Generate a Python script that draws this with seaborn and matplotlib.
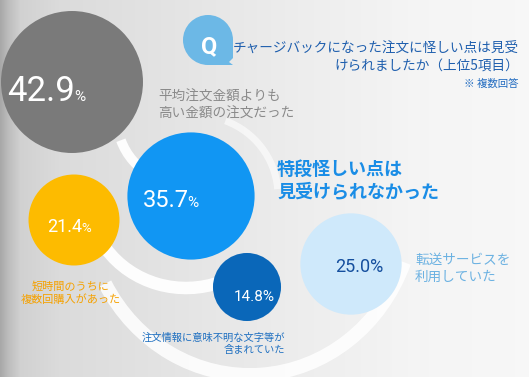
import numpy as np
import pandas as pd
import matplotlib
matplotlib.use("Agg")
import matplotlib.pyplot as plt
from matplotlib.patches import Arc, Circle, Polygon
import seaborn as sns

# ---------------- data ----------------
labels = [
    "平均注文金額よりも\n高い金額の注文だった",
    "特段怪しい点は\n見受けられなかった",
    "転送サービスを\n利用していた",
    "短時間のうちに\n複数回購入があった",
    "注文情報に意味不明な文字等が\n含まれていた",
]
values = [42.9, 35.7, 25.0, 21.4, 14.8]
title_lines = ["チャージバックになった注文に怪しい点は見受",
               "けられましたか（上位5項目）"]
note = "※ 複数回答"

# ---------------- layout / style ----------------
pos_x = [72, 191, 351, 74, 247]
pos_y = [82, 196, 264, 220, 287]
colors = ["#7a7a7a", "#1196f3", "#cfe9fb", "#fdbb00", "#0a67b9"]

sns.set_theme(style="white")
plt.rcParams["font.family"] = ["Noto Sans CJK JP", "DejaVu Sans"]

W, H = 529, 377
fig = plt.figure(figsize=(W / 100, H / 100), dpi=100)
ax = fig.add_axes([0, 0, 1, 1])
ax.set_xlim(0, W)
ax.set_ylim(H, 0)
ax.axis("off")

# background gradient
xs = np.array([0, 8, 20, 60, 160, 300, 420, 529])
vs = np.array([0.66, 0.74, 0.82, 0.86, 0.89, 0.93, 0.96, 0.97])
gx = np.interp(np.arange(W), xs, vs)
grad = np.clip(np.repeat(gx[None, :], H, axis=0), 0, 1)
img = np.dstack([grad, grad, grad])
ax.imshow(img, extent=[0, W, H, 0], aspect="auto", zorder=0, interpolation="bilinear")

# white swooshes
ax.add_patch(Arc((182, 118), 130, 130, theta1=118, theta2=160, lw=7, color="white", alpha=0.95, zorder=1))
ax.add_patch(Arc((186, 195), 196, 186, theta1=68, theta2=146, lw=9, color="white", alpha=0.95, zorder=1))
ax.add_patch(Arc((250, 200), 330, 350, theta1=22, theta2=150, lw=10, color="white", alpha=0.85, zorder=1))
ax.add_patch(Arc((198, 196), 160, 160, theta1=-70, theta2=-5, lw=5, color="white", alpha=0.6, zorder=1))

# bubbles
df = pd.DataFrame({"x": pos_x, "y": pos_y, "value": values, "label": labels})
sns.scatterplot(data=df, x="x", y="y", size="value", hue="label",
                palette=dict(zip(labels, colors)), sizes=(2400, 10450),
                size_norm=(min(values), max(values)), legend=False,
                linewidth=0, alpha=1, ax=ax, zorder=3)
ax.set_xlim(0, W)
ax.set_ylim(H, 0)
ax.axis("off")

num_font = ["Roboto", "DejaVu Sans"]
# percentage labels
ax.text(75, 101, f"{values[0]:.1f}", color="white", fontsize=25, family=num_font, ha="right", va="baseline", zorder=5)
ax.text(74.5, 101, "%", color="white", fontsize=11, family=num_font, ha="left", va="baseline", zorder=5)
ax.text(189, 207, f"{values[1]:.1f}", color="white", fontsize=17, family=num_font, ha="right", va="baseline", zorder=5)
ax.text(187.5, 207, "%", color="white", fontsize=11, family=num_font, ha="left", va="baseline", zorder=5)
ax.text(82.5, 232, f"{values[3]:.1f}", color="white", fontsize=13, family=num_font, ha="right", va="baseline", zorder=5)
ax.text(81.5, 232, "%", color="white", fontsize=9.5, family=num_font, ha="left", va="baseline", zorder=5)
ax.text(254, 301, f"{values[4]:.1f}%", color="white", fontsize=11, family=num_font, ha="center", va="baseline", zorder=5)
ax.text(359, 272.5, f"{values[2]:.1f}%", color="#154f9e", fontsize=13, family=num_font, ha="center", va="baseline", zorder=5)

# category labels
ax.text(158, 105, labels[0], color="#8a8a8a", fontsize=9.8, ha="left", va="center", linespacing=1.3, zorder=5)
ax.text(277, 181, labels[1], color="#1a8de6", fontsize=13, fontweight="bold", ha="left", va="center", linespacing=1.25, zorder=5)
ax.text(415, 268, labels[2], color="#6cb2e2", fontsize=9.8, ha="left", va="center", linespacing=1.3, zorder=5)
ax.text(71, 293, labels[3], color="#f5a100", fontsize=8, ha="center", va="center", linespacing=1.25, zorder=5)
ax.text(285, 344, labels[4], color="#1e6fc0", fontsize=7.4, ha="right", va="center", linespacing=1.3, zorder=5)

# Q bubble
ax.add_patch(Circle((208, 40), 25, color="#6cb8e6", lw=0, zorder=4))
ax.add_patch(Polygon([(208, 40), (233, 40), (233, 58), (229, 62), (233, 65), (208, 65)],
                     closed=True, color="#6cb8e6", lw=0, zorder=4))
ax.text(209, 47, "Q", color="white", fontsize=17, fontweight="bold", family=num_font,
        ha="center", va="center", zorder=5)

# title
ax.text(519, 49, title_lines[0], color="#1f5fae", fontsize=9.8, ha="right", va="center", zorder=5)
ax.text(519, 66.5, title_lines[1], color="#1f5fae", fontsize=9.8, ha="right", va="center", zorder=5)
ax.text(519, 84, note, color="#1f6ac0", fontsize=7.5, ha="right", va="center", zorder=5)

fig.savefig("out.png", dpi=100)
